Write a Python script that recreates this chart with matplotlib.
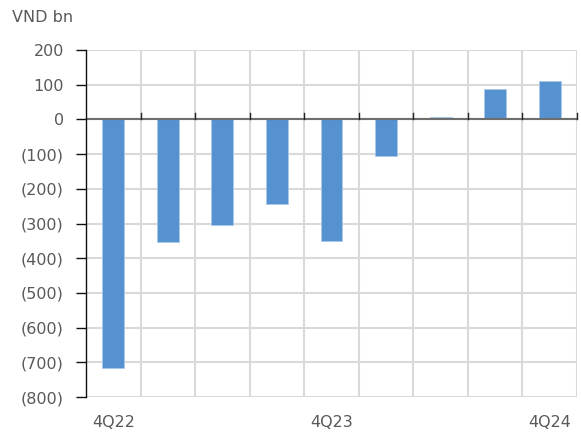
import numpy as np
import matplotlib.pyplot as plt
from matplotlib.ticker import FuncFormatter, MultipleLocator

# Quarterly values, VND bn
quarters = ['4Q22', '1Q23', '2Q23', '3Q23', '4Q23', '1Q24', '2Q24', '3Q24', '4Q24']
values = [-715, -353, -303, -245, -351, -105, 6, 88, 110]
shown_labels = ['4Q22', '4Q23', '4Q24']

fig = plt.figure(figsize=(5.81, 4.34), dpi=100)
ax = fig.add_axes([86 / 581, 1 - 397 / 434, 491 / 581, 347 / 434])

x = np.arange(len(quarters))
ax.bar(x, values, width=0.4, color='#5592cf', edgecolor='#a9c9ea', linewidth=0.6, zorder=3)

ax.set_xlim(-0.5, len(quarters) - 0.5)
ax.set_ylim(-800, 200)
ax.yaxis.set_major_locator(MultipleLocator(100))
ax.yaxis.set_major_formatter(FuncFormatter(lambda v, p: f'({abs(int(v))})' if v < 0 else f'{int(v)}'))

# gridlines: horizontal at ticks, vertical at category boundaries
ax.grid(axis='y', color='#d9d9d9', linewidth=1.5, zorder=0)
for b in np.arange(0.5, len(quarters), 1.0):
    ax.axvline(b, color='#d9d9d9', linewidth=1.5, zorder=0)

# zero line with small ticks at boundaries (pointing up)
ax.axhline(0, color='#6e6e6e', linewidth=1.5, zorder=4)
for b in np.arange(0.5, len(quarters), 1.0):
    ax.plot([b, b], [0, 18], color='#222222', linewidth=1, zorder=4, clip_on=False)

for s in ['top', 'right', 'bottom']:
    ax.spines[s].set_visible(False)
ax.spines['left'].set_color('#111111')
ax.spines['left'].set_linewidth(1)
ax.spines['left'].set_zorder(5)

ax.tick_params(axis='y', length=7, width=1, color='#111111', labelsize=11.5,
               labelcolor='#595959', pad=9)
ax.set_xticks([])

for lab in shown_labels:
    i = quarters.index(lab)
    ax.text(i, -852, lab, ha='center', va='top', fontsize=11.5, color='#595959')

fig.text(12 / 581, 1 - 18 / 434, 'VND bn', ha='left', va='center', fontsize=11.5, color='#595959')

fig.savefig('out.png', dpi=100, facecolor='white')
plt.close()
